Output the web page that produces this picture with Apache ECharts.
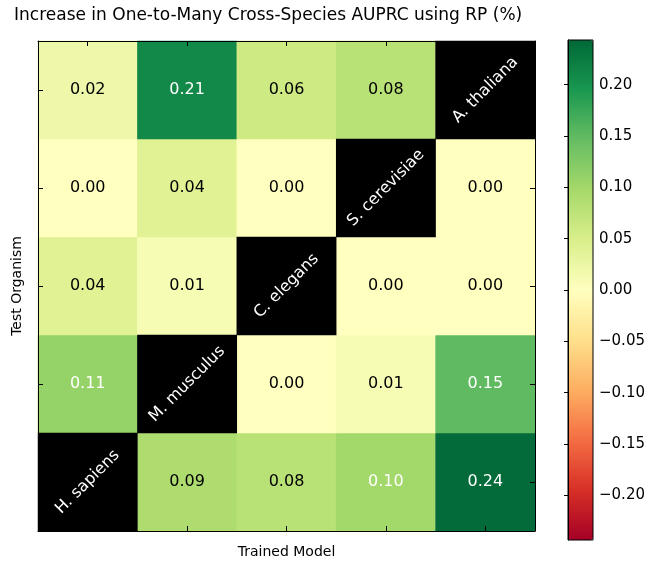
<!DOCTYPE html>
<html>
<head>
<meta charset="utf-8">
<script src="https://cdn.jsdelivr.net/npm/echarts@6/dist/echarts.min.js"></script>
<style>
  html, body { margin: 0; padding: 0; background: #fff; }
  #chart { width: 650px; height: 564px; }
</style>
</head>
<body>
<div id="chart"></div>
<script>
// Organisms, ordered bottom-to-top on the y axis and left-to-right on the x axis
const species = ['H. sapiens', 'M. musculus', 'C. elegans', 'S. cerevisiae', 'A. thaliana'];

// AUPRC gain per test organism (row) for each trained model (column); null = same species
const gainHSapiens    = [null, 0.09, 0.08, 0.10, 0.24];
const gainMMusculus   = [0.11, null, 0.00, 0.01, 0.15];
const gainCElegans    = [0.04, 0.01, null, 0.00, 0.00];
const gainSCerevisiae = [0.00, 0.04, 0.00, null, 0.00];
const gainAThaliana   = [0.02, 0.21, 0.06, 0.08, null];

const colorbarTicks = [-0.20, -0.15, -0.10, -0.05, 0.00, 0.05, 0.10, 0.15, 0.20];
const colorLimit = 0.2435;

// RdYlGn colour ramp
const rdYlGn = ['#a50026', '#d73027', '#f46d43', '#fdae61', '#fee08b', '#ffffbf',
                '#d9ef8b', '#a6d96a', '#66bd63', '#1a9850', '#006837'];

const rows = [gainHSapiens, gainMMusculus, gainCElegans, gainSCerevisiae, gainAThaliana];
const cellData = [];
const diagData = [];
rows.forEach((row, r) => {
  row.forEach((v, c) => {
    if (v === null) {
      diagData.push({ value: [c, r, 0], name: species[r] });
    } else {
      cellData.push({
        value: [c, r, v],
        label: { color: v >= 0.10 ? '#ffffff' : '#000000' }
      });
    }
  });
});

const FONT = 'DejaVu Sans';
const GRID = { left: 38, top: 41, width: 497, height: 496 };
const CBAR = { left: 568, top: 40, width: 25, height: 500 };

function catAxis(position, name) {
  const a = {
    type: 'category',
    data: species,
    gridIndex: 0,
    position: position,
    boundaryGap: true,
    z: 5,
    axisLine: { show: true, onZero: false, lineStyle: { color: '#000', width: 1 } },
    axisTick: { show: true, inside: true, length: 5, alignWithLabel: true, lineStyle: { color: '#000' } },
    axisLabel: { show: false },
    splitLine: { show: false }
  };
  if (name) {
    a.name = name;
    a.nameLocation = 'middle';
    a.nameGap = 14;
    a.nameTextStyle = { fontFamily: FONT, fontSize: 14, color: '#000' };
  }
  return a;
}

const chart = echarts.init(document.getElementById('chart'), null, { renderer: 'canvas' });

chart.setOption({
  backgroundColor: '#ffffff',
  animation: false,
  title: {
    text: 'Increase in One-to-Many Cross-Species AUPRC using RP (%)',
    left: 14,
    top: 7,
    padding: 0,
    textStyle: { fontFamily: FONT, fontSize: 17, fontWeight: 'normal', color: '#000' }
  },
  grid: [
    Object.assign({ containLabel: false }, GRID),
    Object.assign({ containLabel: false, show: true, z: 10, backgroundColor: 'transparent',
                    borderColor: '#000', borderWidth: 1 }, CBAR)
  ],
  xAxis: [
    catAxis('bottom', 'Trained Model'),
    catAxis('top'),
    { type: 'value', gridIndex: 1, show: false, min: 0, max: 1 }
  ],
  yAxis: [
    catAxis('left', 'Test Organism'),
    catAxis('right'),
    {
      type: 'value',
      gridIndex: 1,
      position: 'right',
      min: -colorLimit,
      max: colorLimit,
      z: 12,
      axisLine: { show: true, lineStyle: { color: '#000' } },
      axisTick: { show: true, inside: true, length: 4, customValues: colorbarTicks, lineStyle: { color: '#000' } },
      axisLabel: {
        show: true,
        margin: 6,
        customValues: colorbarTicks,
        fontFamily: FONT,
        fontSize: 15,
        color: '#000',
        formatter: v => (v < 0 ? '\u2212' : '') + Math.abs(v).toFixed(2)
      },
      splitLine: { show: false }
    }
  ],
  visualMap: {
    type: 'continuous',
    seriesIndex: 0,
    min: -colorLimit,
    max: colorLimit,
    calculable: false,
    realtime: false,
    left: CBAR.left,
    top: CBAR.top,
    itemWidth: CBAR.width,
    itemHeight: CBAR.height,
    padding: 0,
    text: ['', ''],
    showLabel: false,
    hoverLink: false,
    inRange: { color: rdYlGn }
  },
  series: [
    {
      type: 'heatmap',
      xAxisIndex: 0,
      yAxisIndex: 0,
      data: cellData,
      label: {
        show: true,
        fontFamily: FONT,
        fontSize: 16,
        formatter: p => p.value[2].toFixed(2)
      },
      itemStyle: { borderWidth: 0 },
      emphasis: { disabled: true }
    },
    {
      type: 'heatmap',
      xAxisIndex: 0,
      yAxisIndex: 0,
      data: diagData,
      itemStyle: { color: '#000000', borderWidth: 0 },
      label: {
        show: true,
        rotate: 45,
        fontFamily: FONT,
        fontSize: 16,
        color: '#ffffff',
        formatter: p => p.name
      },
      emphasis: { disabled: true }
    }
  ]
});
</script>
</body>
</html>
